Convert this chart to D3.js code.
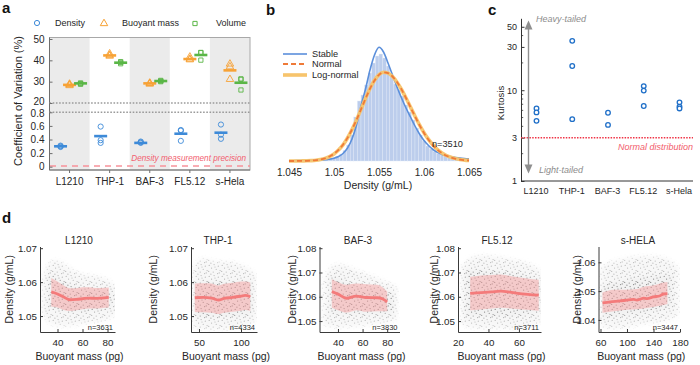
<!DOCTYPE html>
<html>
<head>
<meta charset="utf-8">
<script src="https://cdn.jsdelivr.net/npm/d3@7"></script>
<style>
  html, body { margin: 0; padding: 0; background: #fff; }
  svg { display: block; font-family: "Liberation Sans", Arial, sans-serif; }
</style>
</head>
<body>
<div id="fig"></div>
<script>
// ── Panel a data: coefficient of variation (%) per replicate ────────────
const cells = ["L1210", "THP-1", "BAF-3", "FL5.12", "s-Hela"];
const cvDensity = [[0.29, 0.30, 0.31], [0.59, 0.39, 0.35], [0.35, 0.36, 0.37], [0.54, 0.53, 0.38], [0.62, 0.47, 0.41]];
const cvDensityMean = [0.30, 0.45, 0.35, 0.485, 0.50];
const cvMass = [[28.2, 28.6, 28.9], [42.0, 42.4, 43.1], [28.9, 29.2, 29.4], [40.3, 40.6, 41.6], [38.3, 37.0, 31.1]];
const cvMassMean = [28.5, 42.3, 29.2, 40.6, 35.3];
const cvVolume = [[28.8, 29.1, 29.4], [38.4, 39.0, 39.4], [30.0, 30.3, 30.6], [43.7, 43.6, 40.1], [31.1, 31.3, 26.1]];
const cvVolumeMean = [29.2, 38.9, 30.3, 42.5, 29.5];
const cvTicksHigh = [20, 30, 40, 50];
const cvTicksLow = [0, 0.2, 0.4, 0.6, 0.8];
const precisionLevel = 0.01;

// ── Panel b data: L1210 density histogram + fitted curves ───────────────
const histStart = 1.045;
const histBin = 0.0004;
const histHeights = [
  0.3, 0.3, 0.4, 0.4, 0.5, 0.6, 0.7, 0.9, 1.0, 1.3,
  1.6, 2.2, 3.2, 4.6, 7.0, 10.5, 16, 26, 44, 60,
  66, 76, 88, 98, 105, 107, 103, 95, 86, 77,
  71, 65, 56, 49, 41, 33, 26, 20, 15, 12,
  9.5, 7.5, 6, 5, 4, 3.4, 2.9, 2.5, 2.1, 1.8,
];
const curveStart = 1.045;
const curveStep = 0.0005;
const stableFit = [
  0.3, 0.3, 0.4, 0.5, 0.6, 0.7, 0.9, 1.1, 1.4, 1.9,
  2.8, 4.5, 7.5, 13, 22, 36, 55, 72, 91, 106,
  113.7, 109, 98, 86, 74, 63, 53, 44, 35, 27,
  20.5, 15.5, 11.5, 8.6, 6.6, 5.2, 4.2, 3.5, 2.9, 2.5, 2.2,
];
const normalFit = [
  0.0, 0.0, 0.1, 0.1, 0.2, 0.5, 0.9, 1.6, 2.7, 4.5,
  7.2, 11.1, 16.3, 23.1, 31.5, 41.1, 51.6, 62.3, 72.3, 80.5,
  86.2, 88.7, 87.9, 84.5, 78.9, 71.6, 63.0, 53.8, 44.6, 35.9,
  28.0, 21.3, 15.7, 11.2, 7.8, 5.2, 3.4, 2.2, 1.3, 0.8, 0.5,
];
const logNormalFit = [
  0.0, 0.0, 0.0, 0.1, 0.2, 0.4, 0.8, 1.5, 2.6, 4.3,
  7.0, 10.9, 16.1, 23.0, 31.4, 41.1, 51.7, 62.5, 72.5, 80.7,
  86.4, 88.8, 87.9, 84.4, 78.8, 71.5, 63.0, 53.9, 44.8, 36.1,
  28.3, 21.6, 16.0, 11.5, 8.1, 5.5, 3.7, 2.4, 1.5, 0.9, 0.6,
];
const histTicks = [1.045, 1.05, 1.055, 1.06, 1.065];
const histCount = 3510;

// ── Panel c data: kurtosis per replicate ────────────────────────────────
const kurtosis = [[6.3, 5.7, 4.6], [35, 18.5, 4.8], [5.65, 4.15], [11.1, 9.9, 6.7], [7.35, 6.6, 6.3]];
const kurtMajor = [1, 3, 10, 30, 50];
const kurtMinor = [2, 4, 5, 6, 7, 8, 9, 20, 40];
const normalKurtosis = 3;

// ── Panel d data: density vs buoyant mass ([mass, low, high] envelopes) ─
const scatterNames = ["L1210", "THP-1", "BAF-3", "FL5.12", "s-HELA"];
const scatterCounts = [3631, 4334, 3830, 3711, 3447];

const cloudL1210 = [[28, 1.051, 1.060], [32, 1.048, 1.066], [40, 1.047, 1.067], [50, 1.047, 1.064], [60, 1.048, 1.062], [70, 1.048, 1.062], [80, 1.049, 1.061], [86, 1.050, 1.059], [89, 1.052, 1.057]];
const coreL1210 = [[33, 1.0525, 1.062], [40, 1.052, 1.0615], [50, 1.051, 1.059], [60, 1.051, 1.058], [70, 1.0515, 1.058], [80, 1.052, 1.058], [84, 1.053, 1.057]];
const bandL1210 = [[35, 1.0528, 1.0612], [40, 1.0525, 1.0602], [45, 1.0518, 1.059], [50, 1.0515, 1.0582], [55, 1.0517, 1.0582], [60, 1.052, 1.0585], [65, 1.0522, 1.0585], [70, 1.0522, 1.0583], [75, 1.0523, 1.0583], [81, 1.0525, 1.0584]];
const trendL1210 = [[35, 1.0571], [40, 1.0565], [45, 1.0556], [50, 1.0548], [55, 1.0549], [60, 1.0551], [65, 1.0553], [70, 1.0552], [75, 1.0553], [81, 1.0555]];

const cloudTHP1 = [[43, 1.047, 1.064], [50, 1.046, 1.067], [60, 1.046, 1.067], [70, 1.046, 1.066], [80, 1.046, 1.066], [90, 1.046, 1.066], [100, 1.047, 1.065], [110, 1.047, 1.064], [118, 1.049, 1.062]];
const coreTHP1 = [[45, 1.050, 1.060], [60, 1.0495, 1.0605], [80, 1.050, 1.060], [100, 1.050, 1.0605], [113, 1.051, 1.060]];
const bandTHP1 = [[45, 1.0512, 1.0596], [55, 1.0511, 1.0597], [65, 1.051, 1.0596], [73, 1.0506, 1.059], [80, 1.051, 1.0595], [90, 1.0513, 1.0598], [100, 1.0516, 1.0602], [105, 1.0518, 1.0602], [111, 1.0515, 1.0599]];
const trendTHP1 = [[45, 1.0554], [55, 1.0555], [65, 1.0553], [73, 1.0547], [80, 1.0552], [90, 1.0555], [100, 1.0559], [105, 1.0561], [111, 1.0557]];

const cloudBAF3 = [[28, 1.049, 1.066], [32, 1.048, 1.072], [40, 1.047, 1.074], [50, 1.048, 1.072], [60, 1.048, 1.070], [70, 1.049, 1.068], [80, 1.049, 1.066], [88, 1.051, 1.064]];
const coreBAF3 = [[34, 1.053, 1.068], [42, 1.053, 1.068], [50, 1.053, 1.065], [60, 1.053, 1.064], [70, 1.053, 1.064], [80, 1.053, 1.062], [85, 1.054, 1.061]];
const bandBAF3 = [[35, 1.0555, 1.0672], [40, 1.0545, 1.066], [47, 1.0535, 1.065], [55, 1.0545, 1.0655], [63, 1.0538, 1.0652], [72, 1.054, 1.065], [80, 1.054, 1.0622]];
const trendBAF3 = [[35, 1.0621], [40, 1.0611], [47, 1.0594], [55, 1.0603], [63, 1.0597], [72, 1.0596], [76, 1.0592], [80, 1.0579]];

const cloudFL512 = [[22, 1.049, 1.072], [28, 1.047, 1.077], [40, 1.047, 1.077], [50, 1.047, 1.076], [60, 1.047, 1.075], [70, 1.048, 1.073], [75, 1.050, 1.070]];
const coreFL512 = [[25, 1.052, 1.071], [40, 1.052, 1.071], [55, 1.052, 1.070], [70, 1.053, 1.068], [74, 1.054, 1.067]];
const bandFL512 = [[28, 1.0545, 1.0682], [35, 1.0548, 1.0688], [42, 1.0552, 1.069], [48, 1.0555, 1.0692], [55, 1.0552, 1.0685], [62, 1.0548, 1.0678], [69, 1.0545, 1.0672], [73, 1.0543, 1.067]];
const trendFL512 = [[28, 1.0614], [35, 1.0617], [42, 1.062], [48, 1.0623], [55, 1.0618], [62, 1.0612], [69, 1.0608], [73, 1.0607]];

const cloudSHELA = [[60, 1.038, 1.058], [70, 1.037, 1.060], [90, 1.037, 1.061], [110, 1.038, 1.062], [130, 1.039, 1.062], [150, 1.039, 1.062], [165, 1.040, 1.061], [178, 1.042, 1.058]];
const coreSHELA = [[62, 1.041, 1.052], [80, 1.041, 1.053], [100, 1.042, 1.054], [120, 1.042, 1.055], [140, 1.043, 1.055], [160, 1.044, 1.056], [168, 1.045, 1.055]];
const bandSHELA = [[63, 1.0425, 1.0495], [80, 1.043, 1.0505], [100, 1.0435, 1.0505], [115, 1.0437, 1.0507], [125, 1.044, 1.0515], [140, 1.0445, 1.052], [155, 1.0452, 1.053], [161, 1.0455, 1.0532]];
const trendSHELA = [[63, 1.0459], [75, 1.0463], [90, 1.0466], [100, 1.0469], [110, 1.0471], [115, 1.0469], [120, 1.0472], [125, 1.0476], [130, 1.0474], [140, 1.048], [150, 1.0484], [155, 1.049], [161, 1.0491]];

const massTicks = [[40, 60, 80], [50, 100], [40, 60, 80], [20, 40, 60], [60, 100, 140, 180]];
const densTicks = [[1.05, 1.06, 1.07], [1.05, 1.06, 1.07], [1.05, 1.06, 1.07, 1.08], [1.05, 1.06, 1.07, 1.08], [1.04, 1.05, 1.06]];

// ── Colours ───────────────────────────────────────────────────────────────
const blue = "#3d8ad8";
const orange = "#f7a235";
const green = "#5ab646";
const txt = "#262626";

// ── SVG ───────────────────────────────────────────────────────────────────
const svg = d3.select("#fig").append("svg").attr("width", 700).attr("height", 365);
const defs = svg.append("defs");

function panelLabel(t, x, y) {
  svg.append("text").attr("x", x).attr("y", y).attr("font-size", 15).attr("font-weight", "bold")
    .attr("fill", "#111").text(t);
}

// ── Panel a ───────────────────────────────────────────────────────────────
panelLabel("a", 2, 13);
const xa = d3.scaleBand().domain(cells).range([49.5, 250]);
const yHigh = d3.scaleLinear().domain([20, 50]).range([103, 39]);
const yLow = d3.scaleLinear().domain([0, 0.8]).range([166.7, 112.3]);
const aTop = 37.5, aBottom = 170;
const pa = svg.append("g");

pa.selectAll("rect.band")
  .data(cells.filter((d, i) => i % 2 === 0))
  .join("rect")
  .attr("x", (d) => xa(d)).attr("y", aTop)
  .attr("width", xa.bandwidth()).attr("height", aBottom - aTop)
  .attr("fill", "#ebebeb");

pa.append("rect").attr("x", 49.5).attr("y", aTop).attr("width", 200.5).attr("height", aBottom - aTop)
  .attr("fill", "none").attr("stroke", "#a8a8a8").attr("stroke-width", 1);
pa.append("path").attr("d", `M49.5,${aTop}V${aBottom}H250`).attr("fill", "none")
  .attr("stroke", "#6e6e6e").attr("stroke-width", 1);

// break lines
[yHigh(20), yLow(0.8)].forEach((yy) => {
  pa.append("line").attr("x1", 49.5).attr("x2", 250).attr("y1", yy).attr("y2", yy)
    .attr("stroke", "#9a9a9a").attr("stroke-width", 1.6).attr("stroke-dasharray", "1.6,1.6");
});

// precision line
pa.append("line").attr("x1", 50).attr("x2", 250).attr("y1", yLow(precisionLevel)).attr("y2", yLow(precisionLevel))
  .attr("stroke", "#f7939b").attr("stroke-width", 1.3).attr("stroke-dasharray", "6,5");
pa.append("text").attr("x", 246).attr("y", 160.5).attr("text-anchor", "end")
  .attr("font-size", 8.2).attr("font-style", "italic").attr("fill", "#f2606f")
  .text("Density measurement precision");

// y axes
const axHigh = pa.append("g").attr("transform", "translate(49.5,0)")
  .call(d3.axisLeft(yHigh).tickValues(cvTicksHigh).tickSizeInner(-3).tickSizeOuter(0).tickPadding(5));
const axLow = pa.append("g").attr("transform", "translate(49.5,0)")
  .call(d3.axisLeft(yLow).tickValues(cvTicksLow).tickSizeInner(-3).tickSizeOuter(0).tickPadding(5)
    .tickFormat((d) => (d === 0 ? "0" : d3.format(".1f")(d))));
[axHigh, axLow].forEach((g) => {
  g.select(".domain").remove();
  g.selectAll(".tick line").attr("stroke", "#6e6e6e");
  g.selectAll("text").attr("font-size", 10).attr("fill", txt).attr("font-family", null);
});
// the "20" and "0.8" labels sit on either side of the axis break
axHigh.selectAll(".tick text").filter((d) => d === 20).attr("dy", "0.1em");
axLow.selectAll(".tick text").filter((d) => d === 0.8).attr("dy", "0.45em");

// x axis
const axA = pa.append("g").attr("transform", `translate(0,${aBottom})`)
  .call(d3.axisBottom(xa).tickSizeInner(3).tickSizeOuter(0).tickPadding(5));
axA.select(".domain").remove();
axA.selectAll(".tick line").attr("stroke", "#6e6e6e");
axA.selectAll("text").attr("font-size", 10).attr("fill", txt).attr("font-family", null);

pa.append("text").attr("transform", "translate(22,101) rotate(-90)").attr("text-anchor", "middle")
  .attr("font-size", 11).attr("fill", txt).text("Coefficient of Variation (%)");

// markers
const cx = (i) => xa(cells[i]) + xa.bandwidth() / 2;
const triangle = d3.symbol().type(d3.symbolTriangle).size(24);
const square = d3.symbol().type(d3.symbolSquare).size(18);
const series = [
  { pts: cvDensity, mean: cvDensityMean, y: yLow, dx: -9, color: blue, shape: "circle" },
  { pts: cvMass, mean: cvMassMean, y: yHigh, dx: 0, color: orange, shape: "triangle" },
  { pts: cvVolume, mean: cvVolumeMean, y: yHigh, dx: 11, color: green, shape: "square" },
];
series.forEach((s) => {
  const pts = s.pts.flatMap((vals, i) => vals.map((v) => ({ i, v })));
  if (s.shape === "circle") {
    pa.selectAll(null).data(pts).join("circle")
      .attr("cx", (d) => cx(d.i) + s.dx).attr("cy", (d) => s.y(d.v)).attr("r", 2.6)
      .attr("fill", "none").attr("stroke", s.color).attr("stroke-width", 0.9);
  } else {
    pa.selectAll(null).data(pts).join("path")
      .attr("d", s.shape === "triangle" ? triangle : square)
      .attr("transform", (d) => `translate(${cx(d.i) + s.dx},${s.y(d.v)})`)
      .attr("fill", "none").attr("stroke", s.color).attr("stroke-width", 0.9);
  }
  pa.selectAll(null).data(s.mean).join("line")
    .attr("x1", (d, i) => cx(i) + s.dx - 6.5).attr("x2", (d, i) => cx(i) + s.dx + 6.5)
    .attr("y1", (d) => s.y(d)).attr("y2", (d) => s.y(d))
    .attr("stroke", s.color).attr("stroke-width", 2.6);
});

// legend
const legA = pa.append("g").attr("transform", "translate(0,23)");
legA.append("circle").attr("cx", 37).attr("cy", 0).attr("r", 2.6).attr("fill", "none").attr("stroke", blue).attr("stroke-width", 1);
legA.append("path").attr("d", triangle).attr("transform", "translate(104,0.5)").attr("fill", "none").attr("stroke", orange).attr("stroke-width", 1);
legA.append("path").attr("d", square).attr("transform", "translate(195,0.5)").attr("fill", "none").attr("stroke", green).attr("stroke-width", 1);
[["Density", 55], ["Buoyant mass", 122], ["Volume", 216]].forEach(([t, x]) => {
  legA.append("text").attr("x", x).attr("y", 3.2).attr("font-size", 9).attr("fill", txt).text(t);
});

// ── Panel b ───────────────────────────────────────────────────────────────
panelLabel("b", 266, 15);
const xb = d3.scaleLinear().domain([1.045, 1.065]).range([289, 469]);
const yb = d3.scaleLinear().domain([0, 120]).range([161, 41]);
const pb = svg.append("g");

pb.selectAll("rect.hist").data(histHeights).join("rect")
  .attr("x", (d, i) => xb(histStart + i * histBin))
  .attr("width", (d, i) => xb(histStart + (i + 1) * histBin) - xb(histStart + i * histBin))
  .attr("y", (d) => yb(d)).attr("height", (d) => yb(0) - yb(d))
  .attr("fill", "#bccdec").attr("stroke", "#e2e9f7").attr("stroke-width", 0.4);

const fitLine = d3.line()
  .x((d, i) => xb(curveStart + i * curveStep))
  .y((d) => yb(d))
  .curve(d3.curveMonotoneX);
pb.append("path").datum(stableFit).attr("d", fitLine).attr("fill", "none")
  .attr("stroke", "#5b8fdb").attr("stroke-width", 1.6);
pb.append("path").datum(logNormalFit).attr("d", fitLine).attr("fill", "none")
  .attr("stroke", "#f7c46c").attr("stroke-width", 3.6).attr("stroke-opacity", 0.95);
pb.append("path").datum(normalFit).attr("d", fitLine).attr("fill", "none")
  .attr("stroke", "#ef7a38").attr("stroke-width", 1.8).attr("stroke-dasharray", "5,3");

const axB = pb.append("g").attr("transform", "translate(0,161)")
  .call(d3.axisBottom(xb).tickValues(histTicks).tickSize(0).tickPadding(7.5)
    .tickFormat((d) => String(+d.toFixed(3))));
axB.select(".domain").remove();
axB.selectAll("text").attr("font-size", 10).attr("fill", txt).attr("font-family", null);
pb.append("text").attr("x", 378).attr("y", 189).attr("text-anchor", "middle")
  .attr("font-size", 10.5).attr("fill", txt).text("Density (g/mL)");
pb.append("text").attr("x", 432).attr("y", 147).attr("font-size", 9.2).attr("fill", txt)
  .text(`n=${histCount}`);

const legB = [
  { label: "Stable", color: "#5b8fdb", w: 1.6, dash: null, y: 54 },
  { label: "Normal", color: "#ef7a38", w: 1.8, dash: "5,3", y: 64 },
  { label: "Log-normal", color: "#f7c46c", w: 3.6, dash: null, y: 75 },
];
legB.forEach((l) => {
  pb.append("line").attr("x1", 283).attr("x2", 307).attr("y1", l.y).attr("y2", l.y)
    .attr("stroke", l.color).attr("stroke-width", l.w).attr("stroke-dasharray", l.dash);
  pb.append("text").attr("x", 312).attr("y", l.y + 3.3).attr("font-size", 9.2).attr("fill", txt).text(l.label);
});

// ── Panel c ───────────────────────────────────────────────────────────────
panelLabel("c", 488, 15);
const yc = d3.scaleLog().domain([1, 62]).range([181, 18.3]);
const xc = d3.scalePoint().domain(cells).range([535.5, 678.5]);
const pc = svg.append("g");

const axC = pc.append("g").attr("transform", "translate(521,0)")
  .call(d3.axisLeft(yc).tickValues(kurtMajor).tickFormat(d3.format("d")).tickSizeInner(-3.5).tickSizeOuter(0).tickPadding(4));
axC.select(".domain").attr("stroke", "#333");
axC.selectAll(".tick line").attr("stroke", "#333");
axC.selectAll("text").attr("font-size", 9).attr("fill", txt).attr("font-family", null);
pc.selectAll("line.minor").data(kurtMinor).join("line")
  .attr("x1", 521).attr("x2", 523.2).attr("y1", (d) => yc(d)).attr("y2", (d) => yc(d))
  .attr("stroke", "#333").attr("stroke-width", 0.8);
pc.append("line").attr("x1", 521).attr("x2", 693).attr("y1", 181).attr("y2", 181).attr("stroke", "#333");
const axCx = pc.append("g").attr("transform", "translate(0,181)")
  .call(d3.axisBottom(xc).tickSize(0).tickPadding(7));
axCx.select(".domain").remove();
axCx.selectAll("text").attr("font-size", 9).attr("fill", txt).attr("font-family", null);

pc.append("text").attr("transform", "translate(504,103) rotate(-90)").attr("text-anchor", "middle")
  .attr("font-size", 9.5).attr("fill", txt).text("Kurtosis");

// normal distribution reference
pc.append("line").attr("x1", 521).attr("x2", 693).attr("y1", yc(normalKurtosis)).attr("y2", yc(normalKurtosis))
  .attr("stroke", "#ef3446").attr("stroke-width", 1.5).attr("stroke-dasharray", "1.5,1.3");
pc.append("text").attr("x", 693).attr("y", 150).attr("text-anchor", "end")
  .attr("font-size", 9).attr("font-style", "italic").attr("fill", "#f25d6c").text("Normal distribution");

// tail arrow
const arrX = 528.5;
pc.append("line").attr("x1", arrX).attr("x2", arrX).attr("y1", 27).attr("y2", 167)
  .attr("stroke", "#8f8f8f").attr("stroke-width", 1.4);
pc.append("path").attr("d", `M${arrX},20.5L${arrX - 4},29.5L${arrX + 4},29.5Z`).attr("fill", "#8f8f8f");
pc.append("path").attr("d", `M${arrX},173.5L${arrX - 4},164.5L${arrX + 4},164.5Z`).attr("fill", "#8f8f8f");
pc.append("text").attr("x", 536).attr("y", 21.5).attr("font-size", 9).attr("font-style", "italic")
  .attr("fill", "#8c8c8c").text("Heavy-tailed");
pc.append("text").attr("x", 539).attr("y", 172.5).attr("font-size", 9).attr("font-style", "italic")
  .attr("fill", "#8c8c8c").text("Light-tailed");

const kPts = kurtosis.flatMap((vals, i) => vals.map((v) => ({ c: cells[i], v })));
pc.selectAll("circle").data(kPts).join("circle")
  .attr("cx", (d) => xc(d.c) + 1).attr("cy", (d) => yc(d.v)).attr("r", 2.3)
  .attr("fill", "#fff").attr("stroke", "#1f6fc8").attr("stroke-width", 1.3);

// ── Panel d ───────────────────────────────────────────────────────────────
panelLabel("d", 2, 223);

// speckle texture standing in for the individual gray cells, faded by a soft mask
const speckle = defs.append("pattern").attr("id", "speckle").attr("patternUnits", "userSpaceOnUse")
  .attr("width", 13).attr("height", 11);
[[1.2, 1.4], [6.1, 0.6], [10.3, 2.2], [3.6, 4.1], [8.2, 5.3], [12.1, 6.6], [0.7, 7.4],
 [5.2, 8.1], [9.6, 9.6], [2.9, 10.2], [7.0, 3.0], [11.2, 8.9]].forEach(([x, y]) => {
  speckle.append("circle").attr("cx", x).attr("cy", y).attr("r", 0.6).attr("fill", "#555");
});
defs.append("filter").attr("id", "soft").attr("x", "-20%").attr("y", "-20%").attr("width", "140%").attr("height", "140%")
  .append("feGaussianBlur").attr("stdDeviation", 2.2);

const dLayout = [
  { cloud: cloudL1210, core: coreL1210, band: bandL1210, trend: trendL1210, x0: 40, x1: 115, xDom: [26, 86], yDom: [1.0453, 1.0705], titleX: 79, yLabX: 9 },
  { cloud: cloudTHP1, core: coreTHP1, band: bandTHP1, trend: trendTHP1, x0: 191, x1: 257, xDom: [40.5, 119], yDom: [1.0453, 1.0705], titleX: 218, yLabX: 153 },
  { cloud: cloudBAF3, core: coreBAF3, band: bandBAF3, trend: trendBAF3, x0: 319.5, x1: 399.5, xDom: [25, 90], yDom: [1.0455, 1.0807], titleX: 358, yLabX: 292 },
  { cloud: cloudFL512, core: coreFL512, band: bandFL512, trend: trendFL512, x0: 458, x1: 541, xDom: [20, 74.5], yDom: [1.0455, 1.0807], titleX: 497, yLabX: 434 },
  { cloud: cloudSHELA, core: coreSHELA, band: bandSHELA, trend: trendSHELA, x0: 598.5, x1: 680, xDom: [57, 180], yDom: [1.0358, 1.0655], titleX: 638, yLabX: 577 },
];
const dTop = 246.5, dBottom = 332;

dLayout.forEach((p, k) => {
  const g = svg.append("g");
  const x = d3.scaleLinear().domain(p.xDom).range([p.x0, p.x1]);
  const y = d3.scaleLinear().domain(p.yDom).range([dBottom, dTop]);

  const clipId = `clip-d${k}`;
  defs.append("clipPath").attr("id", clipId).append("rect")
    .attr("x", p.x0 + 0.5).attr("y", dTop).attr("width", p.x1 - p.x0).attr("height", dBottom - dTop - 0.5);
  const plot = g.append("g").attr("clip-path", `url(#${clipId})`);

  const envelope = d3.area().x((d) => x(d[0])).y0((d) => y(d[1])).y1((d) => y(d[2])).curve(d3.curveBasis);
  const bandArea = d3.area().x((d) => x(d[0])).y0((d) => y(d[1])).y1((d) => y(d[2])).curve(d3.curveMonotoneX);
  const trendLine = d3.line().x((d) => x(d[0])).y((d) => y(d[1])).curve(d3.curveMonotoneX);

  // soft mask: sparse outer cloud, denser core
  const mask = defs.append("mask").attr("id", `mask-d${k}`).attr("maskUnits", "userSpaceOnUse")
    .attr("x", p.x0 - 20).attr("y", dTop - 20).attr("width", p.x1 - p.x0 + 40).attr("height", dBottom - dTop + 40);
  const mg = mask.append("g").attr("filter", "url(#soft)");
  mg.append("path").datum(p.cloud).attr("d", envelope).attr("fill", "#fff").attr("fill-opacity", 0.42);
  mg.append("path").datum(p.core).attr("d", envelope).attr("fill", "#fff").attr("fill-opacity", 0.55);

  const cloudLayer = plot.append("g").attr("mask", `url(#mask-d${k})`);
  cloudLayer.append("rect").attr("x", p.x0).attr("y", dTop).attr("width", p.x1 - p.x0).attr("height", dBottom - dTop)
    .attr("fill", "#000").attr("fill-opacity", 0.07);
  cloudLayer.append("rect").attr("x", p.x0).attr("y", dTop).attr("width", p.x1 - p.x0).attr("height", dBottom - dTop)
    .attr("fill", "url(#speckle)");

  plot.append("path").datum(p.band).attr("d", bandArea).attr("fill", "#f6a2a2").attr("fill-opacity", 0.5);
  plot.append("path").datum(p.trend).attr("d", trendLine).attr("fill", "none")
    .attr("stroke", "#f47b7b").attr("stroke-width", 2.8);

  const axY = g.append("g").attr("transform", `translate(${p.x0},0)`)
    .call(d3.axisLeft(y).tickValues(densTicks[k]).tickFormat(d3.format(".2f"))
      .tickSizeInner(-3).tickSizeOuter(0).tickPadding(3));
  const axX = g.append("g").attr("transform", `translate(0,${dBottom})`)
    .call(d3.axisBottom(x).tickValues(massTicks[k]).tickFormat(d3.format("d"))
      .tickSizeInner(-3).tickSizeOuter(0).tickPadding(7.5));
  [axY, axX].forEach((a) => {
    a.select(".domain").attr("stroke", "#3a3a3a");
    a.selectAll(".tick line").attr("stroke", "#3a3a3a");
    a.selectAll("text").attr("font-size", 9.8).attr("fill", txt).attr("font-family", null);
  });

  g.append("text").attr("x", p.titleX).attr("y", 243.5).attr("text-anchor", "middle")
    .attr("font-size", 10).attr("fill", txt).text(scatterNames[k]);
  g.append("text").attr("x", (p.x0 + p.x1) / 2 + 2).attr("y", 359.5).attr("text-anchor", "middle")
    .attr("font-size", 10.5).attr("fill", txt).text("Buoyant mass (pg)");
  g.append("text").attr("transform", `translate(${p.yLabX + 3.5},${(dTop + dBottom) / 2}) rotate(-90)`)
    .attr("text-anchor", "middle").attr("font-size", 10.5).attr("fill", txt).text("Density (g/mL)");
  g.append("text").attr("x", p.x1 - 2).attr("y", 330).attr("text-anchor", "end")
    .attr("font-size", 7.5).attr("fill", txt).text(`n=${scatterCounts[k]}`);
});
</script>
</body>
</html>
